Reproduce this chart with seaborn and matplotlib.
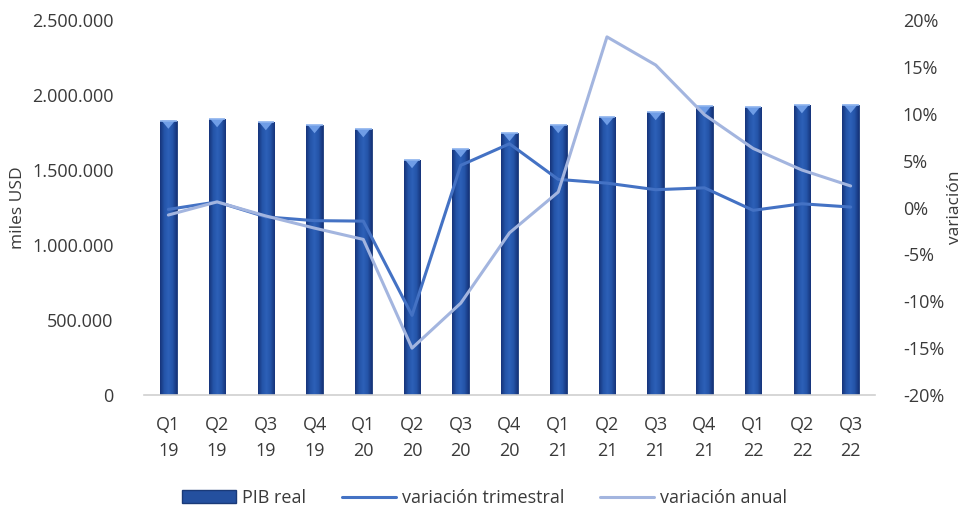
import numpy as np
import pandas as pd
import matplotlib
matplotlib.use("Agg")
import matplotlib.pyplot as plt
import seaborn as sns
from matplotlib.patches import Polygon, Patch
from matplotlib.lines import Line2D
from matplotlib.colors import LinearSegmentedColormap
from matplotlib.ticker import FuncFormatter, MultipleLocator

# Quarterly data
quarters = ["Q1\n19", "Q2\n19", "Q3\n19", "Q4\n19", "Q1\n20", "Q2\n20", "Q3\n20", "Q4\n20",
            "Q1\n21", "Q2\n21", "Q3\n21", "Q4\n21", "Q1\n22", "Q2\n22", "Q3\n22"]
pib_real = [1830000, 1840000, 1820000, 1800000, 1773000, 1567000, 1640000, 1747000,
            1800000, 1853000, 1887000, 1927000, 1920000, 1933000, 1935000]
var_trimestral = [-0.2, 0.6, -1.0, -1.4, -1.45, -11.5, 4.5, 6.8,
                  3.0, 2.6, 1.9, 2.1, -0.3, 0.4, 0.05]
var_anual = [-0.8, 0.6, -0.9, -2.2, -3.4, -15.0, -10.2, -2.7,
             1.65, 18.2, 15.2, 9.9, 6.3, 4.0, 2.3]

sns.set_theme(style="white")
plt.rcParams["font.family"] = ["Open Sans", "DejaVu Sans"]
text_color = "#3a3a3a"
fs = 13

df = pd.DataFrame({"trimestre": quarters, "pib": pib_real,
                   "trim": var_trimestral, "anual": var_anual})
df["pos"] = np.arange(len(df))

fig = plt.figure(figsize=(9.69, 5.08), dpi=100)
ax = fig.add_axes([0.1486, 0.2224, 0.7544, 0.7382])

sns.barplot(data=df, x="trimestre", y="pib", ax=ax, color="#24509F",
            width=0.34, saturation=1, edgecolor="#1a3a78", linewidth=0.6)

# gradient fill and bevelled top for each bar
cmap = LinearSegmentedColormap.from_list(
    "bar", ["#16347a", "#2454a8", "#2d60b8", "#2454a8", "#16347a"])
grad = np.linspace(0, 1, 64).reshape(1, -1)
for bar in ax.patches:
    x0, y0 = bar.get_x(), bar.get_y()
    w, h = bar.get_width(), bar.get_height()
    im = ax.imshow(grad, cmap=cmap, aspect="auto", extent=[x0, x0 + w, y0, y0 + h],
                   zorder=bar.get_zorder() + 0.1)
    im.set_clip_path(bar)
    depth = 55000
    tri = Polygon([[x0 + 0.03, y0 + h], [x0 + w - 0.03, y0 + h], [x0 + w / 2, y0 + h - depth]],
                  closed=True, facecolor="#6f9de6", edgecolor="none",
                  zorder=bar.get_zorder() + 0.2)
    ax.add_patch(tri)
    ax.plot([x0, x0 + w], [y0 + h, y0 + h], color="#8db3ee", lw=1.2,
            zorder=bar.get_zorder() + 0.3, solid_capstyle="butt")

ax.set_xlim(-0.5, len(quarters) - 0.5)
ax.set_ylim(0, 2500000)
ax.yaxis.set_major_locator(MultipleLocator(500000))
ax.yaxis.set_major_formatter(FuncFormatter(lambda v, p: f"{int(v):,}".replace(",", ".")))
ax.set_xlabel("")
ax.set_ylabel("miles USD", fontsize=fs - 0.5, color=text_color, labelpad=4)
ax.tick_params(axis="y", length=0, pad=22, labelsize=fs, colors=text_color)
ax.tick_params(axis="x", length=0, pad=15, labelsize=fs, colors=text_color)
for lbl in ax.get_xticklabels():
    lbl.set_linespacing(1.55)
for s in ["top", "right", "left"]:
    ax.spines[s].set_visible(False)
ax.spines["bottom"].set_color("#d0d0d0")
ax.spines["bottom"].set_linewidth(1.2)

ax2 = ax.twinx()
sns.lineplot(data=df, x="pos", y="trim", ax=ax2, color="#4472C4", lw=2.2)
sns.lineplot(data=df, x="pos", y="anual", ax=ax2, color="#A3B5DF", lw=2.2)
ax2.set_ylim(-20, 20)
ax2.yaxis.set_major_locator(MultipleLocator(5))
ax2.yaxis.set_major_formatter(FuncFormatter(lambda v, p: f"{int(round(v))}%"))
ax2.set_ylabel("variación", fontsize=fs - 0.5, color=text_color, labelpad=2)
ax2.tick_params(axis="y", length=0, pad=20, labelsize=fs, colors=text_color)
for s in ["top", "right", "left", "bottom"]:
    ax2.spines[s].set_visible(False)
ax2.grid(False)
ax.grid(False)

handles = [Patch(facecolor="#24509F", edgecolor="#1a3a78"),
           Line2D([], [], color="#4472C4", lw=2.2),
           Line2D([], [], color="#A3B5DF", lw=2.2)]
fig.legend(handles, ["PIB real", "variación trimestral", "variación anual"],
           loc="center", bbox_to_anchor=(0.5, 0.02), ncol=3, frameon=False,
           fontsize=fs, handlelength=3.0, columnspacing=2.0, handletextpad=0.3,
           labelcolor=text_color)

fig.savefig("out.png", dpi=100)
